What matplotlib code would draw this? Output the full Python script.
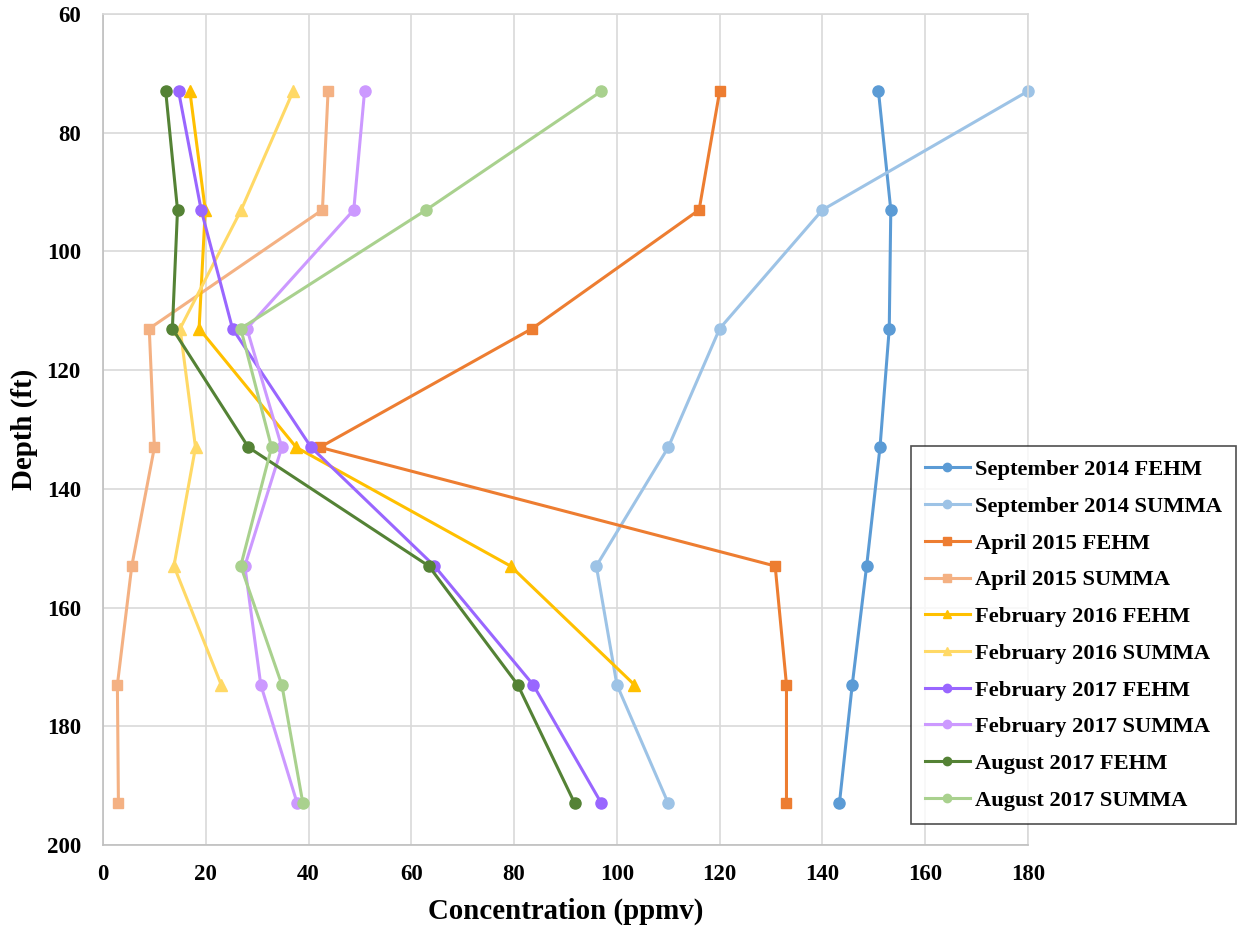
import matplotlib
matplotlib.use("Agg")
import matplotlib.pyplot as plt

plt.rcParams['font.family'] = ['Liberation Serif', 'DejaVu Serif']
plt.rcParams['font.weight'] = 'bold'

# Sampling depths (ft)
depth = [73, 93, 113, 133, 153, 173, 193]
depth_short = [73, 93, 113, 133, 153, 173]

# Concentration profiles (ppmv)
sep2014_fehm = [150.9, 153.3, 153.0, 151.2, 148.6, 145.8, 143.3]
sep2014_summa = [180.0, 140.0, 120.0, 110.0, 96.0, 100.0, 110.0]
apr2015_fehm = [120.0, 116.0, 83.5, 42.2, 130.8, 133.0, 133.0]
apr2015_summa = [43.8, 42.7, 9.0, 10.0, 5.6, 2.8, 3.0]
feb2016_fehm = [16.9, 19.9, 18.7, 37.6, 79.3, 103.4]
feb2016_summa = [37.0, 26.9, 15.0, 18.0, 13.8, 23.0]
feb2017_fehm = [14.7, 19.1, 25.2, 40.5, 64.5, 83.7, 97.0]
feb2017_summa = [50.9, 48.8, 28.0, 34.8, 27.6, 30.7, 37.8]
aug2017_fehm = [12.2, 14.5, 13.5, 28.3, 63.4, 80.7, 91.8]
aug2017_summa = [97.0, 62.9, 26.8, 32.8, 26.8, 34.8, 38.9]

series = [
    ("September 2014 FEHM", sep2014_fehm, depth, "#5B9BD5", "o"),
    ("September 2014 SUMMA", sep2014_summa, depth, "#9DC3E6", "o"),
    ("April 2015 FEHM", apr2015_fehm, depth, "#ED7D31", "s"),
    ("April 2015 SUMMA", apr2015_summa, depth, "#F4B183", "s"),
    ("February 2016 FEHM", feb2016_fehm, depth_short, "#FFC000", "^"),
    ("February 2016 SUMMA", feb2016_summa, depth_short, "#FFD966", "^"),
    ("February 2017 FEHM", feb2017_fehm, depth, "#9966FF", "o"),
    ("February 2017 SUMMA", feb2017_summa, depth, "#CC99FF", "o"),
    ("August 2017 FEHM", aug2017_fehm, depth, "#548235", "o"),
    ("August 2017 SUMMA", aug2017_summa, depth, "#A9D18E", "o"),
]

W, H = 1238, 934
fig = plt.figure(figsize=(W / 100, H / 100), dpi=100)
ax = fig.add_axes([103 / W, 1 - 845 / H, (1028 - 103) / W, (845 - 14) / H])

for label, xs, ys, color, marker in series:
    msize = 7.5 if marker == "s" else (8.5 if marker == "^" else 8)
    ax.plot(xs, ys, color=color, marker=marker, markersize=msize,
            linewidth=2.2, label=label, clip_on=False)

ax.set_xlim(0, 180)
ax.set_ylim(200, 60)
ax.set_xticks(range(0, 181, 20))
ax.set_yticks(range(60, 201, 20))
ax.grid(True, color="#D9D9D9", linewidth=1.2)
ax.set_axisbelow(True)
for sp in ax.spines.values():
    sp.set_color("#D9D9D9")
    sp.set_linewidth(1.2)
ax.spines['left'].set_color("#BFBFBF")
ax.spines['bottom'].set_color("#BFBFBF")
ax.tick_params(length=0, labelsize=16.5)
ax.tick_params(axis='x', pad=14)
ax.tick_params(axis='y', pad=16)
for t in ax.get_xticklabels() + ax.get_yticklabels():
    t.set_fontweight('bold')

ax.set_xlabel("Concentration (ppmv)", fontsize=20.8, fontweight='bold', labelpad=9)
ax.set_ylabel("Depth (ft)", fontsize=20.8, fontweight='bold', labelpad=6)

leg = fig.legend(loc="upper left", bbox_to_anchor=(911 / W, 1 - 446 / H),
                 frameon=True, fancybox=False, edgecolor="#222222",
                 prop={'size': 16.2, 'weight': 'bold'}, markerscale=0.75,
                 handlelength=2.0, handletextpad=0.25, labelspacing=0.71,
                 borderpad=0.6, borderaxespad=0)
leg.get_frame().set_linewidth(1.2)

fig.savefig("out.png", dpi=100)
